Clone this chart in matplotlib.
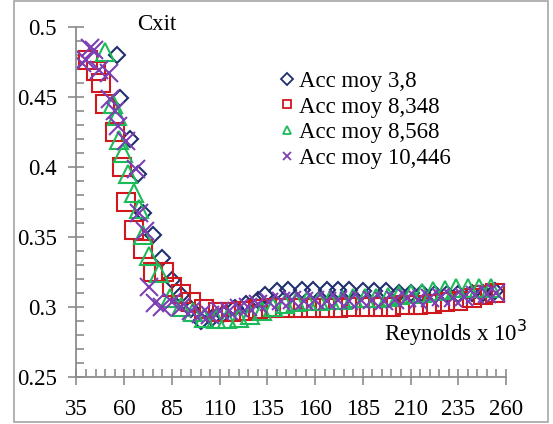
import matplotlib
matplotlib.use("Agg")
import matplotlib.pyplot as plt
from matplotlib.ticker import MultipleLocator
from matplotlib.patches import Rectangle

# Acc moy 3,8
x_38 = [56, 58, 63, 67, 70, 75, 80, 85, 90, 95, 100, 106, 112, 118, 124, 130, 134,
        140, 146, 153, 159, 166, 172, 178, 185, 191, 197, 204, 210, 216, 223, 229,
        235, 242, 248, 254]
y_38 = [0.480, 0.449, 0.420, 0.395, 0.367, 0.351, 0.335, 0.319, 0.308, 0.298, 0.290,
        0.292, 0.295, 0.299, 0.302, 0.305, 0.308, 0.311, 0.312, 0.312, 0.312, 0.312,
        0.312, 0.312, 0.311, 0.311, 0.311, 0.310, 0.310, 0.310, 0.309, 0.309, 0.309,
        0.310, 0.310, 0.311]

# Acc moy 8,348
x_8348 = [41, 45, 48, 50, 55, 59, 61, 65, 70, 75, 81, 85, 90, 95, 102, 109, 116, 123,
          130, 137, 144, 151, 158, 165, 172, 179, 186, 193, 200, 207, 214, 221, 228,
          235, 242, 248, 254]
y_8348 = [0.476, 0.468, 0.460, 0.445, 0.425, 0.400, 0.375, 0.355, 0.341, 0.325, 0.3245,
          0.314, 0.309, 0.303, 0.298, 0.2965, 0.2965, 0.297, 0.298, 0.299, 0.299, 0.299,
          0.299, 0.299, 0.299, 0.300, 0.300, 0.300, 0.300, 0.301, 0.301, 0.302, 0.303,
          0.304, 0.306, 0.308, 0.310]

# Acc moy 8,568
x_8568 = [50, 54, 56, 57.5, 59.5, 62, 65, 68, 70, 73, 78, 84, 90, 96, 102, 108, 114,
          120, 126, 132, 138, 144, 150, 156, 162, 168, 174, 180, 186, 192, 198, 204,
          210, 216, 222, 228, 234, 240, 246, 252]
y_8568 = [0.482, 0.445, 0.436, 0.419, 0.410, 0.395, 0.381, 0.370, 0.351, 0.336, 0.324,
          0.306, 0.300, 0.296, 0.292, 0.291, 0.291, 0.292, 0.294, 0.297, 0.300, 0.302,
          0.303, 0.304, 0.304, 0.305, 0.305, 0.306, 0.306, 0.306, 0.307, 0.308, 0.309,
          0.310, 0.311, 0.312, 0.313, 0.313, 0.313, 0.313]

# Acc moy 10,446
x_10446 = [38, 40, 42, 44, 47, 52, 52.5, 55, 57, 61, 66, 68, 71, 73, 76, 80, 85, 90,
           95, 100, 105, 110, 115, 120, 125, 130, 136, 142, 148, 154, 160, 166, 172,
           178, 184, 190, 196, 202, 208, 214, 220, 226, 232, 238, 244, 250, 255]
y_10446 = [0.474, 0.476, 0.485, 0.483, 0.469, 0.467, 0.448, 0.440, 0.429, 0.418, 0.398,
           0.367, 0.354, 0.314, 0.3025, 0.300, 0.303, 0.300, 0.297, 0.295, 0.294, 0.297,
           0.297, 0.299, 0.300, 0.302, 0.303, 0.304, 0.305, 0.304, 0.305, 0.304, 0.305,
           0.304, 0.305, 0.305, 0.304, 0.305, 0.306, 0.305, 0.306, 0.307, 0.306, 0.307,
           0.308, 0.309, 0.310]

x_ticks = [35, 60, 85, 110, 135, 160, 185, 210, 235, 260]
y_ticks = [0.25, 0.3, 0.35, 0.4, 0.45, 0.5]
y_labels = ['0.25', '0.3', '0.35', '0.4', '0.45', '0.5']

plt.rcParams['font.family'] = ['Liberation Serif', 'DejaVu Serif']
fs = 16.5

fig = plt.figure(figsize=(5.53, 4.24), dpi=100)
ax = fig.add_axes([0.1383, 0.1116, 0.7767, 0.8255])

ax.plot(x_38, y_38, linestyle='none', marker='D', ms=8, mfc='none', mec='#1f2f6e',
        mew=1.5, label='Acc moy 3,8')
ax.plot(x_8348, y_8348, linestyle='none', marker='s', ms=13, mfc='none', mec='#d0191e',
        mew=1.5, label='Acc moy 8,348')
ax.plot(x_8568, y_8568, linestyle='none', marker='^', ms=13, mfc='none', mec='#1dba5a',
        mew=1.5, label='Acc moy 8,568')
ax.plot(x_10446, y_10446, linestyle='none', marker='x', ms=13, mec='#7d3fb4',
        mew=1.5, label='Acc moy 10,446')

ax.set_xlim(35, 260)
ax.set_ylim(0.25, 0.5)
ax.set_xticks(x_ticks)
ax.xaxis.set_minor_locator(MultipleLocator(5))
ax.set_yticks(y_ticks)
ax.set_yticklabels(y_labels)
ax.yaxis.set_minor_locator(MultipleLocator(0.01))

for s in ['top', 'right']:
    ax.spines[s].set_visible(False)
for s in ['left', 'bottom']:
    ax.spines[s].set_color('#8c8c8c')
    ax.spines[s].set_linewidth(1.3)

ax.tick_params(which='major', direction='inout', length=12, width=1.2,
               color='#8c8c8c', labelsize=fs)
ax.tick_params(which='minor', direction='in', length=6, width=1.2, color='#8c8c8c')
ax.tick_params(axis='x', which='major', pad=10)
ax.tick_params(axis='y', which='major', pad=8)

leg = ax.legend(loc='upper left', bbox_to_anchor=(0.455, 0.9), frameon=False,
                fontsize=fs, handlelength=0.5, handletextpad=0.3,
                labelspacing=0.2, borderaxespad=0)
for h in leg.legend_handles:
    h.set_markersize(6)
    h.set_markeredgewidth(1.3)

ax.text(0.141, 1.005, 'Cxit', transform=ax.transAxes, fontsize=fs, va='center')
ax.text(1.049, 0.125, 'Reynolds x 10$^3$', transform=ax.transAxes, fontsize=fs,
        ha='right', va='center')

fig.patches.append(Rectangle((0.025, 0.004), 0.966, 0.994, transform=fig.transFigure,
                             fill=False, edgecolor='#a6a6a6', linewidth=1.2))

fig.savefig('out.png', dpi=100)
